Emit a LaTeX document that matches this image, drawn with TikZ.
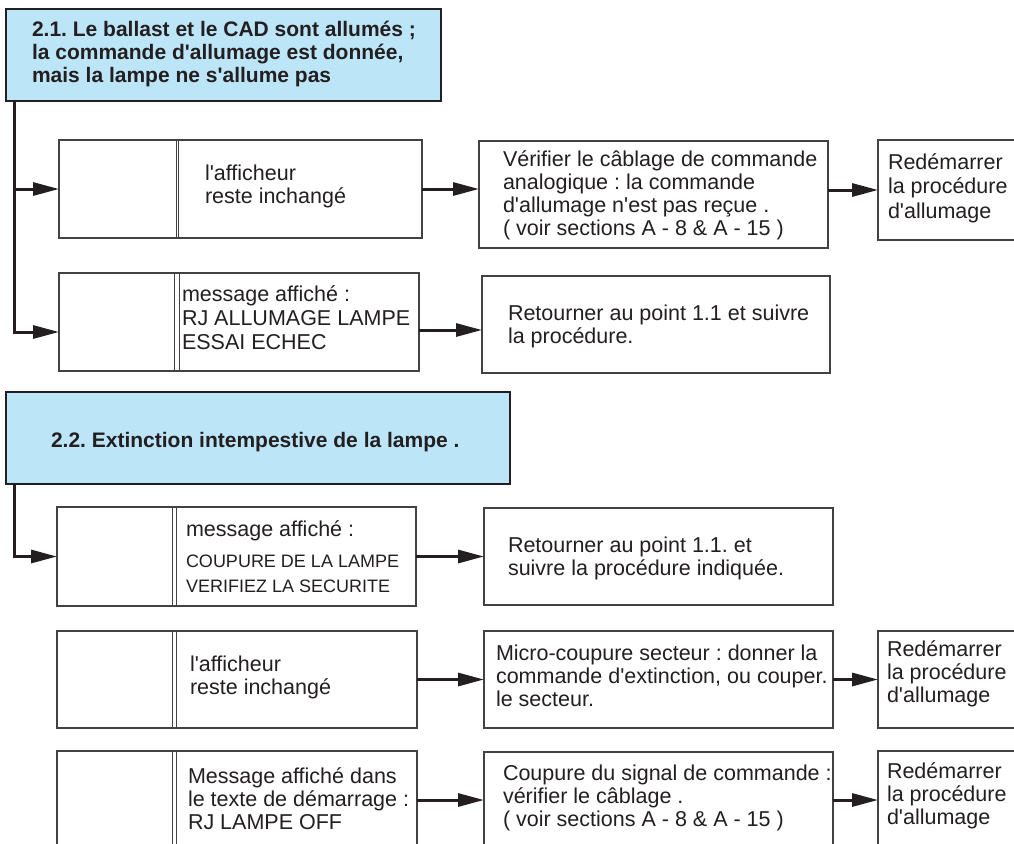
\documentclass[tikz,border=0pt]{standalone}
\usepackage{fontspec}
\newfontfamily\lsans{Liberation Sans}
\setmainfont{Liberation Sans}
\usetikzlibrary{arrows.meta}
\definecolor{hdrblue}{RGB}{189,229,248}
\definecolor{ink}{RGB}{35,31,32}
\newcommand{\txtlines}[1]{\begin{tabular}[t]{@{}l@{}}#1\end{tabular}}
\frenchspacing
\begin{document}
\begin{tikzpicture}[x=1pt,y=-1pt,
  box/.style={draw=ink!85, line width=1.3pt, rectangle, inner sep=0pt, outer sep=0pt, anchor=north west},
  hdr/.style={box, fill=hdrblue, draw=ink, line width=2pt},
  divider/.style={draw=ink!85, line width=1pt},
  conn/.style={draw=ink, line width=3pt, -{Triangle[length=26pt,width=13pt]}},
  txt/.style={anchor=base west, inner sep=0pt, outer sep=0pt, text=ink, font=\lsans\frenchspacing\fontsize{21.5}{23}\selectfont},
  htxt/.style={txt, font=\lsans\frenchspacing\bfseries\fontsize{21}{23}\selectfont},
  small/.style={txt, font=\lsans\frenchspacing\fontsize{18}{25}\selectfont}]
\useasboundingbox (0,0) rectangle (1014,843);
\clip (0,0) rectangle (1014,843);
\fill[white] (0,0) rectangle (1014,843);

% ---------- section 2.1 ----------
\node[hdr, minimum width=435pt, minimum height=92pt] (H1) at (6,9) {};
\node[htxt] (H1t) at (32,37) {\txtlines{2.1. Le ballast et le CAD sont allumés ;\\la commande d'allumage est donnée,\\mais la lampe ne s'allume pas}};

\node[box, minimum width=363pt, minimum height=98pt] (A) at (59,140) {};
\draw[divider] ([xshift=117pt]A.north west) -- ([xshift=117pt]A.south west);
\draw[divider] ([xshift=119pt]A.north west) -- ([xshift=119pt]A.south west);
\node[txt] (At) at (205,180) {\txtlines{l'afficheur\\reste inchangé}};

\node[box, minimum width=349pt, minimum height=107pt] (V) at (479,141) {};
\node[txt] (Vt) at (503,166) {\txtlines{Vérifier le câblage de commande\\analogique : la commande\\d'allumage n'est pas reçue .\\( voir sections A - 8 \& A - 15 )}};

\node[box, minimum width=160pt, minimum height=100pt] (R1) at (878,140) {};
\node[txt, font=\lsans\fontsize{21.5}{24.5}\selectfont] (R1t) at (888,169) {\txtlines{Redémarrer\\la procédure\\d'allumage}};

\node[box, minimum width=360pt, minimum height=98pt] (B) at (59,273) {};
\draw[divider] ([xshift=115pt]B.north west) -- ([xshift=115pt]B.south west);
\draw[divider] ([xshift=120pt]B.north west) -- ([xshift=120pt]B.south west);
\node[txt, font=\lsans\frenchspacing\fontsize{21.5}{24}\selectfont] (Bt) at (182,301) {\txtlines{message affiché :\\RJ ALLUMAGE LAMPE\\ESSAI ECHEC}};

\node[box, minimum width=348pt, minimum height=97pt] (T1) at (482,276) {};
\node[txt] (T1t) at (508,320) {\txtlines{Retourner au point 1.1 et suivre\\la procédure.}};

% ---------- section 2.2 ----------
\node[hdr, minimum width=504pt, minimum height=92pt] (H2) at (6,392) {};
\node[htxt] (H2t) at (51,447) {2.2. Extinction intempestive de la lampe .};

\node[box, minimum width=359pt, minimum height=99pt] (C) at (57,507) {};
\draw[divider] ([xshift=115pt]C.north west) -- ([xshift=115pt]C.south west);
\draw[divider] ([xshift=119pt]C.north west) -- ([xshift=119pt]C.south west);
\node[txt] (Ct1) at (186,536) {message affiché :};
\node[small] (Ct2) at (186,567) {\txtlines{COUPURE DE LA LAMPE\\VERIFIEZ LA SECURITE}};

\node[box, minimum width=349pt, minimum height=97pt] (T2) at (484,508) {};
\node[txt] (T2t) at (508,552) {\txtlines{Retourner au point 1.1. et\\suivre la procédure indiquée.}};

\node[box, minimum width=360pt, minimum height=97pt] (D) at (57,631) {};
\draw[divider] ([xshift=115pt]D.north west) -- ([xshift=115pt]D.south west);
\draw[divider] ([xshift=119pt]D.north west) -- ([xshift=119pt]D.south west);
\node[txt] (Dt) at (190,671) {\txtlines{l'afficheur\\reste inchangé}};

\node[box, minimum width=349pt, minimum height=97pt] (M) at (484,631) {};
\node[txt] (Mt) at (496,660) {\txtlines{Micro-coupure secteur : donner la\\commande d'extinction, ou couper.\\le secteur.}};

\node[box, minimum width=160pt, minimum height=97pt] (R2) at (878,631) {};
\node[txt] (R2t) at (887,656) {\txtlines{Redémarrer\\la procédure\\d'allumage}};

\node[box, minimum width=360pt, minimum height=120pt] (E) at (57,751) {};
\draw[divider] ([xshift=115pt]E.north west) -- ([xshift=115pt]E.south west);
\draw[divider] ([xshift=119pt]E.north west) -- ([xshift=119pt]E.south west);
\node[txt] (Et) at (188,783) {\txtlines{Message affiché dans\\le texte de démarrage :\\RJ LAMPE OFF}};

\node[box, minimum width=349pt, minimum height=120pt] (K) at (484,752) {};
\node[txt] (Kt) at (503,780) {\txtlines{Coupure du signal de commande :\\vérifier le câblage .\\( voir sections A - 8 \& A - 15 )}};

\node[box, minimum width=160pt, minimum height=120pt] (R3) at (878,751) {};
\node[txt] (R3t) at (887,778) {\txtlines{Redémarrer\\la procédure\\d'allumage}};

% ---------- connectors ----------
\coordinate (t1) at ([xshift=8pt]H1.south west);
\draw[conn] (t1) |- ([yshift=-10pt]B.west);
\draw[conn] (t1 |- A.west) -- (A.west);
\draw[conn] (A.east) -- (A.east -| V.west);
\draw[conn] (V.east |- R1.west) -- (R1.west);
\draw[conn] ([yshift=-8pt]B.east) -- ([yshift=-8pt]B.east -| T1.west);

\coordinate (t2) at ([xshift=8pt]H2.south west);
\draw[conn] (t2) |- (C.west);
\draw[conn] (C.east) -- (C.east -| T2.west);
\draw[conn] (D.east) -- (D.east -| M.west);
\draw[conn] (M.east) -- (M.east -| R2.west);
\draw[conn] ([yshift=-49pt]E.north east) -- ([yshift=-49pt]E.north east -| K.west);
\draw[conn] ([yshift=-48pt]K.north east) -- ([yshift=-48pt]K.north east -| R3.west);
\end{tikzpicture}
\end{document}
